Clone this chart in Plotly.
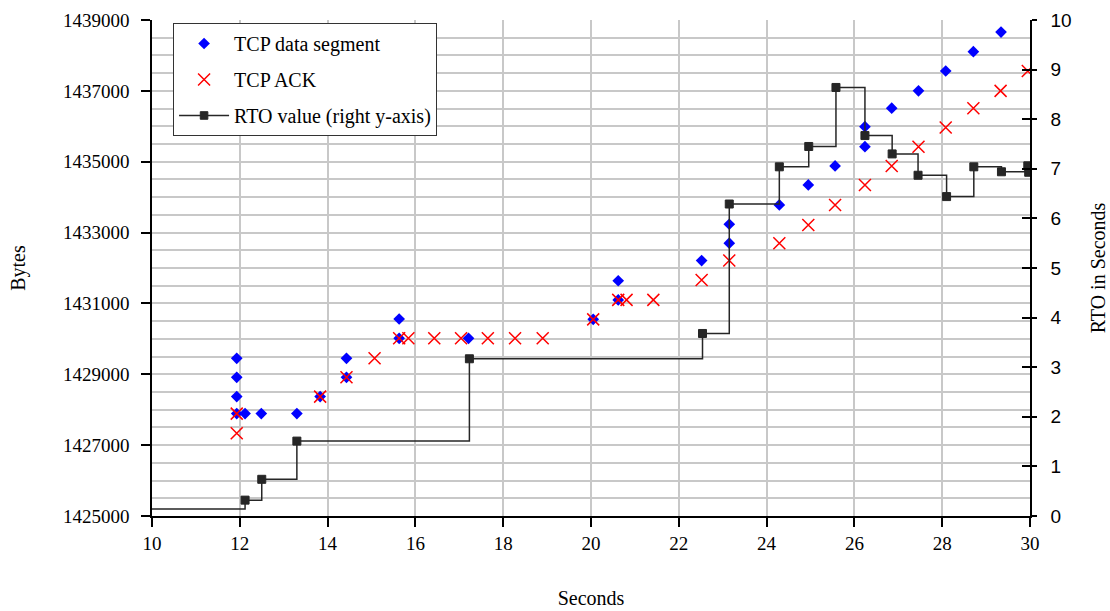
import plotly.graph_objects as go

# TCP data segments (seconds, bytes)
seg_t = [11.93, 11.93, 11.93, 11.93, 12.12, 12.49, 13.30, 13.83, 14.43, 14.43,
         15.63, 15.63, 17.21, 20.05, 20.62, 20.62, 22.52, 23.15, 23.15, 24.29,
         24.95, 25.56, 26.24, 26.24, 26.85, 27.46, 28.08, 28.71, 29.34]
seg_b = [1429450, 1428915, 1428370, 1427890, 1427890, 1427890, 1427890, 1428370, 1428915, 1429450,
         1430560, 1430015, 1430015, 1430550, 1431100, 1431640, 1432210, 1432700, 1433235, 1433780,
         1434345, 1434880, 1435425, 1435990, 1436510, 1437000, 1437560, 1438105, 1438660]

# TCP ACKs (seconds, bytes)
ack_t = [11.93, 11.93, 13.83, 14.43, 15.07, 15.63, 15.84, 16.43, 17.04, 17.65,
         18.27, 18.90, 20.05, 20.62, 20.81, 21.42, 22.52, 23.15, 24.29, 24.95,
         25.56, 26.24, 26.85, 27.46, 28.08, 28.71, 29.33, 29.95]
ack_b = [1427890, 1427335, 1428370, 1428915, 1429450, 1430015, 1430015, 1430015, 1430015, 1430015,
         1430015, 1430015, 1430550, 1431100, 1431100, 1431100, 1431660, 1432210, 1432700, 1433215,
         1433780, 1434345, 1434880, 1435425, 1435965, 1436510, 1437000, 1437560]

# RTO value (seconds, RTO seconds) - right y-axis
rto_t = [9.8, 12.12, 12.50, 13.30, 17.23, 22.54, 23.15, 24.29, 24.96, 25.58,
         26.24, 26.86, 27.45, 28.10, 28.72, 29.35, 29.95, 29.97]
rto_v = [0.14, 0.32, 0.74, 1.51, 3.17, 3.68, 6.29, 7.04, 7.45, 8.64,
         7.67, 7.30, 6.87, 6.44, 7.04, 6.94, 7.06, 6.93]

x_ticks = [10, 12, 14, 16, 18, 20, 22, 24, 26, 28, 30]
left_ticks = [1425000, 1427000, 1429000, 1431000, 1433000, 1435000, 1437000, 1439000]
right_ticks = [0, 1, 2, 3, 4, 5, 6, 7, 8, 9, 10]

SERIF = "Liberation Serif, Times New Roman, serif"
SANS = "Liberation Sans, Arial, sans-serif"
GRID = "#c8c8c8"
FS = 19
TS = 20
RTO_C = "#262626"

fig = go.Figure()
fig.add_trace(go.Scatter(
    x=seg_t, y=seg_b, mode="markers", name="TCP data segment",
    legendgroup="a",
    marker=dict(symbol="diamond", size=9, color="#0000ff", line=dict(width=0)),
    xaxis="x", yaxis="y"))
fig.add_trace(go.Scatter(
    x=ack_t, y=ack_b, mode="markers", name="TCP ACK",
    legendgroup="b",
    marker=dict(symbol="x-thin", size=12, color="#ff0000",
                line=dict(width=1.5, color="#ff0000")),
    xaxis="x", yaxis="y"))
fig.add_trace(go.Scatter(
    x=rto_t, y=rto_v, mode="lines+markers", name="RTO value (right y-axis)",
    legendgroup="c",
    line=dict(shape="hv", color=RTO_C, width=1.5),
    marker=dict(symbol="square", size=[0] + [8] * (len(rto_t) - 1), color=RTO_C,
                opacity=1, line=dict(width=1, color=RTO_C)),
    xaxis="x", yaxis="y2"))
# invisible helper trace to enable the inner tick overlay axis
fig.add_trace(go.Scatter(x=[10], y=[0], mode="markers", marker=dict(opacity=0),
                         showlegend=False, hoverinfo="skip", xaxis="x", yaxis="y3"))

fig.update_layout(
    width=1110, height=611, autosize=False,
    margin=dict(l=152, r=80, t=20, b=95),
    plot_bgcolor="white", paper_bgcolor="white",
    font=dict(family=SERIF, size=FS, color="black"),
    showlegend=True,
    legend=dict(
        x=0.024, y=0.994, xanchor="left", yanchor="top",
        bgcolor="white", bordercolor="#333333", borderwidth=1,
        font=dict(family=SERIF, size=TS, color="black"),
        traceorder="grouped", tracegroupgap=7, itemwidth=50,
    ),
    xaxis=dict(
        range=[10, 30], tickvals=x_ticks, ticktext=[str(v) for v in x_ticks],
        showgrid=True, gridcolor=GRID, gridwidth=1.5,
        showline=True, linecolor="black", linewidth=1.5,
        ticks="outside", ticklen=9, tickcolor="black", tickwidth=1.5,
        zeroline=False, automargin=False,
        tickfont=dict(family=SERIF, size=FS),
        title=dict(text="Seconds", font=dict(family=SERIF, size=TS), standoff=38),
    ),
    yaxis=dict(
        range=[1425000, 1439000], tickvals=left_ticks, ticktext=[str(v) for v in left_ticks],
        showgrid=True, gridcolor=GRID, gridwidth=1.5,
        minor=dict(dtick=500, tick0=1425000, showgrid=True, gridcolor=GRID, gridwidth=1.5, ticks=""),
        showline=True, linecolor="black", linewidth=1.5,
        ticks="outside", ticklen=9, tickcolor="black", tickwidth=1.5,
        zeroline=False, ticklabelstandoff=8, automargin=False,
        tickfont=dict(family=SERIF, size=FS),
        title=dict(text="Bytes", font=dict(family=SERIF, size=TS), standoff=32),
    ),
    yaxis2=dict(
        range=[0, 10], tickvals=right_ticks, ticktext=[str(v) for v in right_ticks],
        overlaying="y", side="right", anchor="x",
        showgrid=False, zeroline=False, automargin=False,
        showline=True, linecolor="black", linewidth=1.5,
        ticks="outside", ticklen=5, tickcolor="black", tickwidth=1.5,
        ticklabelstandoff=10,
        tickfont=dict(family=SANS, size=19),
        title=dict(text="RTO in Seconds", font=dict(family=SERIF, size=TS), standoff=20),
    ),
    yaxis3=dict(
        range=[0, 10], tickvals=right_ticks, overlaying="y", side="right", anchor="x",
        showgrid=False, zeroline=False, showline=False, showticklabels=False,
        automargin=False,
        ticks="inside", ticklen=8, tickcolor="black", tickwidth=1.5,
    ),
)

fig.write_html("out.html")
